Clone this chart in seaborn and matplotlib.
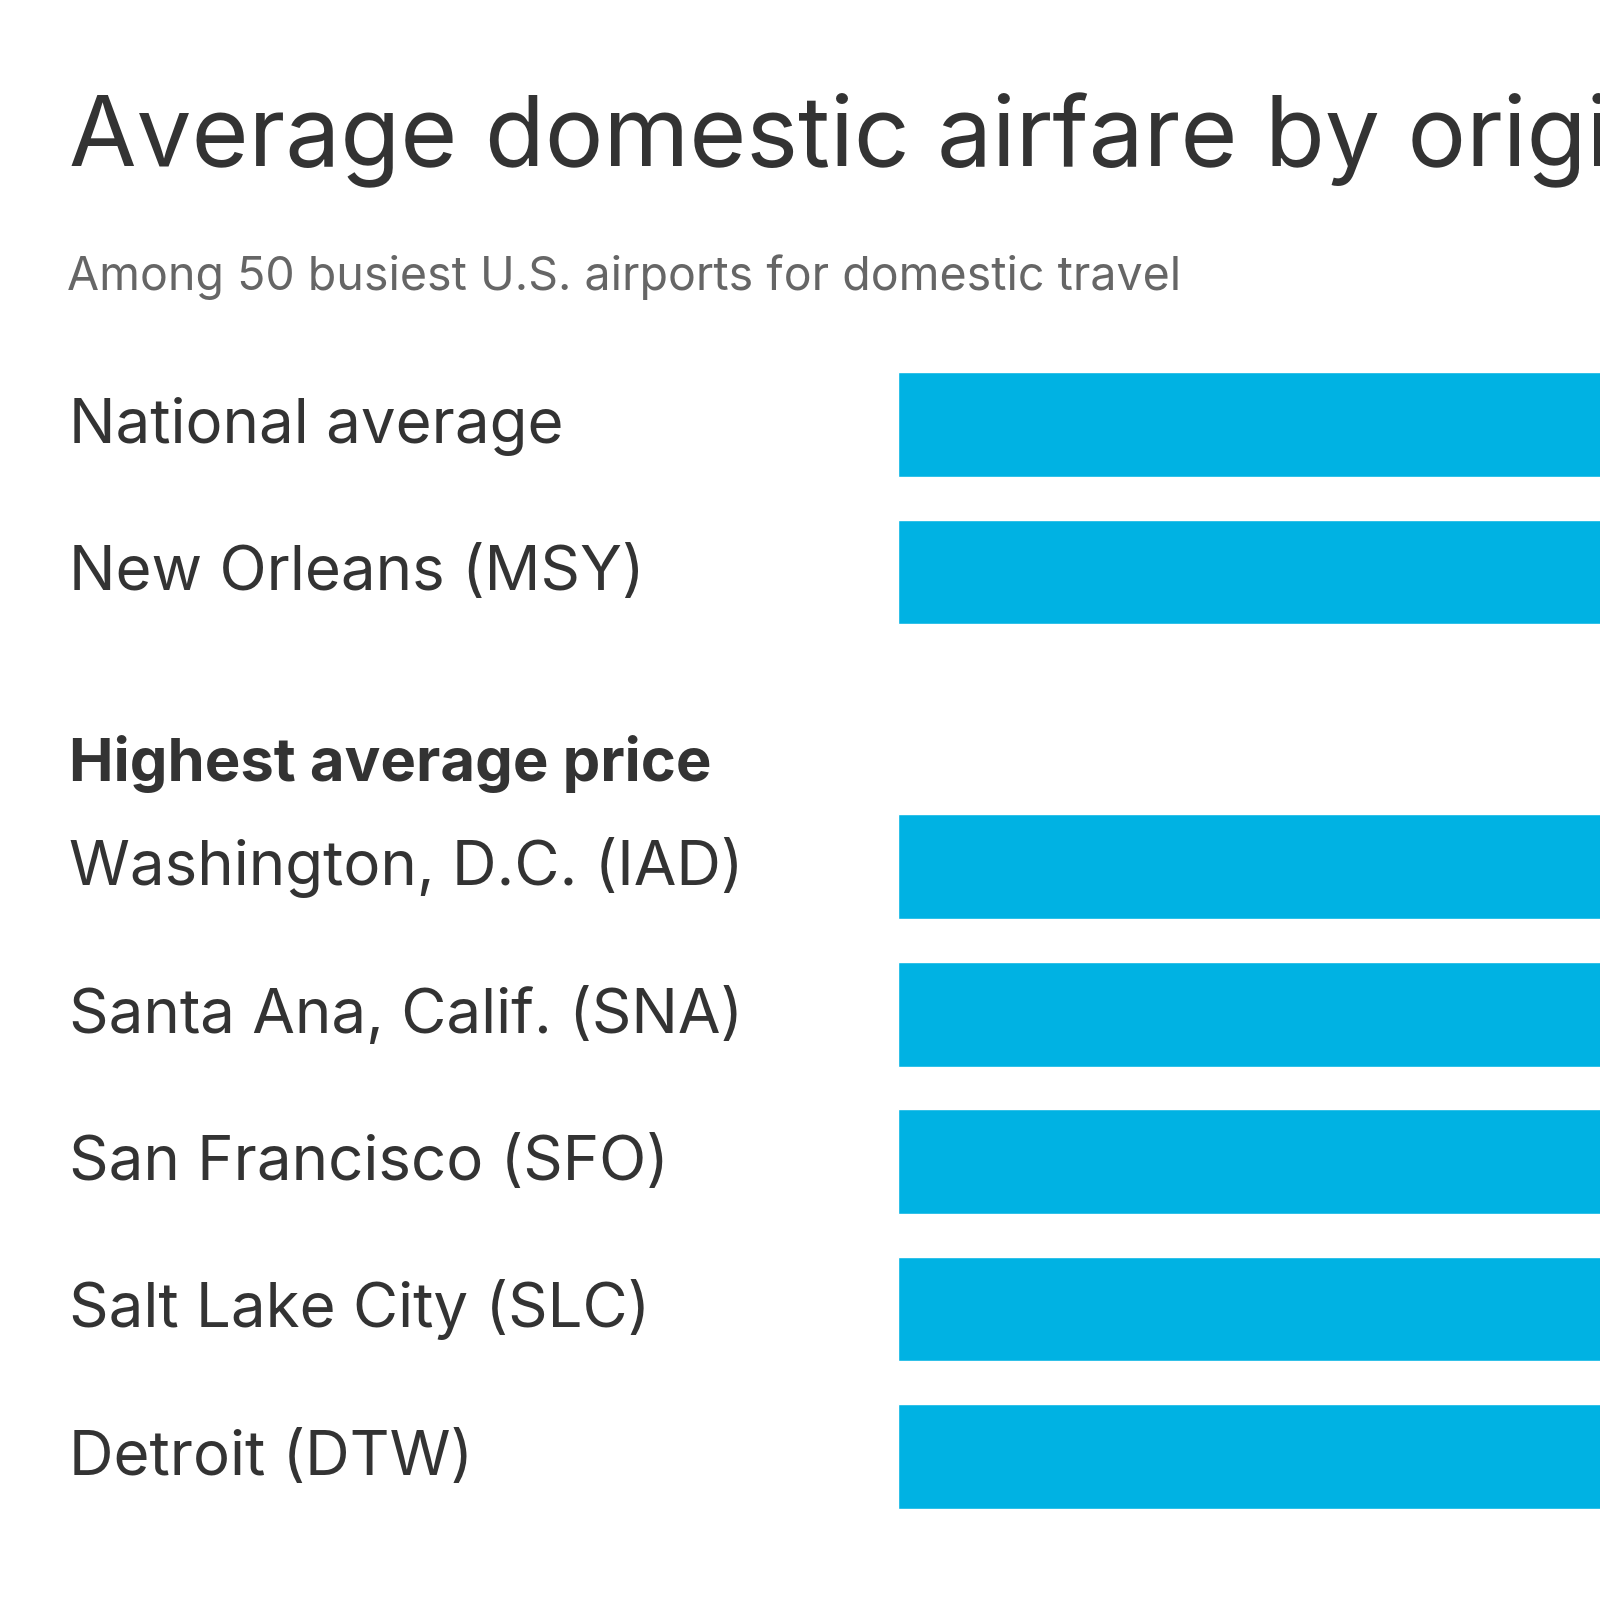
import pandas as pd
import matplotlib
matplotlib.use("Agg")
import matplotlib.pyplot as plt
import seaborn as sns

# Chart data (bars run past the right edge in the reference, values estimated)
airports = ["National average", "New Orleans (MSY)",
            "Washington, D.C. (IAD)", "Santa Ana, Calif. (SNA)",
            "San Francisco (SFO)", "Salt Lake City (SLC)", "Detroit (DTW)"]
fares = [381, 398, 509, 478, 470, 466, 461]

# row order, blank slot for the section header
row_order = ["National average", "New Orleans (MSY)", "",
             "Washington, D.C. (IAD)", "Santa Ana, Calif. (SNA)",
             "San Francisco (SFO)", "Salt Lake City (SLC)", "Detroit (DTW)"]
header = "Highest average price"

title = "Average domestic airfare by origin airport"
subtitle = "Among 50 busiest U.S. airports for domestic travel"

BAR_COLOR = "#00b2e3"
TEXT_COLOR = "#333333"
SUB_COLOR = "#666666"

sns.set_style("white")
plt.rcParams["font.family"] = ["Inter", "DejaVu Sans"]

df = pd.DataFrame({"airport": airports, "fare": fares})

fig = plt.figure(figsize=(16, 16), dpi=100)
ax = fig.add_axes([0.561, 0.0437, 0.439, 0.737])

sns.barplot(data=df, x="fare", y="airport", order=row_order,
            color=BAR_COLOR, saturation=1, width=0.712, ax=ax)

ax.set_xlim(0, 250)
ax.set_ylim(len(row_order) - 0.5, -0.5)
ax.set_xlabel("")
ax.set_ylabel("")
ax.set_xticks([])
ax.set_yticks([])
sns.despine(ax=ax, left=True, bottom=True, right=True, top=True)

# row labels at left of the figure
trans = matplotlib.transforms.blended_transform_factory(fig.transFigure, ax.transData)
for i, name in enumerate(row_order):
    if name:
        ax.text(0.043, i + 0.125, name, transform=trans, ha="left", va="baseline",
                fontsize=44.5, color=TEXT_COLOR, clip_on=False)
ax.text(0.043, 2.42, header, transform=trans, ha="left", va="baseline",
        fontsize=43, fontweight="bold", color=TEXT_COLOR, clip_on=False)

fig.text(0.043, 0.896, title, ha="left", va="baseline", fontsize=70.5, color=TEXT_COLOR)
fig.text(0.042, 0.819, subtitle, ha="left", va="baseline", fontsize=33.5, color=SUB_COLOR)

fig.savefig("out.png", dpi=100)
